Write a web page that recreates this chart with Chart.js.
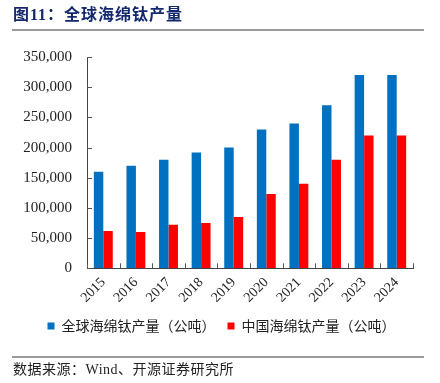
<!DOCTYPE html>
<html><head><meta charset="utf-8">
<script src="https://cdn.jsdelivr.net/npm/chart.js@4/dist/chart.umd.min.js"></script>
<style>
html,body{margin:0;padding:0;background:#fff;}
#wrap{position:relative;width:440px;height:383px;overflow:hidden;}
#c{position:absolute;left:0;top:0;}
.title{position:absolute;left:13px;top:5px;font-family:"Liberation Serif","Noto Sans CJK SC",serif;font-weight:bold;font-size:16px;letter-spacing:1px;color:#14286e;white-space:nowrap;line-height:20px;}
.hl{position:absolute;left:12px;width:412px;height:2px;background:#9a9a9a;}
.src{position:absolute;left:13px;top:361px;font-family:"Liberation Serif","Noto Sans CJK SC",serif;font-size:14px;letter-spacing:0.5px;color:#222;white-space:nowrap;line-height:18px;}
</style></head>
<body><div id="wrap">
<canvas id="c" width="440" height="383"></canvas>
<div class="title">图11：全球海绵钛产量</div>
<div class="hl" style="top:29px"></div>
<div class="hl" style="top:356px;height:1.5px"></div>
<div class="src">数据来源：Wind、开源证券研究所</div>
</div>
<script>
const categories = ['2015','2016','2017','2018','2019','2020','2021','2022','2023','2024'];
const globalOutput = [160000,170000,180000,192000,200000,230000,240000,270000,320000,320000];
const chinaOutput = [62000,60000,72000,75000,85000,123000,140000,180000,220000,220000];
const seriesNames = ['全球海绵钛产量（公吨）','中国海绵钛产量（公吨）'];
const yTicks = [0,50000,100000,150000,200000,250000,300000,350000];

const inwardTicks = {
  id:'inwardTicks',
  afterLayout(chart){
    const lg = chart.legend;
    if(lg){ lg.left += 15; lg.right += 15; }
  },
  afterDraw(chart){
    const ctx = chart.ctx, x = chart.scales.x, y = chart.scales.y;
    ctx.save();
    ctx.strokeStyle = '#555'; ctx.lineWidth = 1;
    ctx.beginPath();
    y.ticks.forEach((t,i)=>{
      const py = Math.round(y.getPixelForTick(i))+0.5;
      ctx.moveTo(y.right, py); ctx.lineTo(y.right+5, py);
    });
    for(let i=0;i<=categories.length;i++){
      const px = Math.round(x.left + (x.right-x.left)*i/categories.length)+0.5;
      ctx.moveTo(px, x.top); ctx.lineTo(px, x.top-5);
    }
    ctx.stroke();
    ctx.restore();
  }
};

new Chart(document.getElementById('c'), {
  type:'bar',
  data:{
    labels:categories,
    datasets:[
      {label:seriesNames[0], data:globalOutput, backgroundColor:'#0070c0'},
      {label:seriesNames[1], data:chinaOutput, backgroundColor:'#ff0000'}
    ]
  },
  options:{
    responsive:false, animation:false,
    layout:{padding:{left:0,right:27,top:57,bottom:40}},
    datasets:{bar:{categoryPercentage:0.58,barPercentage:1.0}},
    plugins:{
      legend:{position:'bottom',
        labels:{usePointStyle:true,pointStyle:'rect',boxWidth:7,boxHeight:7,padding:12,
          font:{family:'"Noto Sans CJK SC"',size:14},color:'#222'}},
      tooltip:{enabled:false}
    },
    scales:{
      y:{min:0,max:350000,
        afterBuildTicks(s){ s.ticks = yTicks.map(v=>({value:v})); },
        afterFit(s){ s.width = 87; },
        grid:{display:false,drawTicks:false},
        border:{display:true,color:'#444',width:1},
        ticks:{padding:15,color:'#222',font:{family:'"Liberation Serif"',size:15},
          callback:v=>v.toLocaleString('en-US')}
      },
      x:{
        afterFit(s){ s.height -= 5; },
        grid:{display:false,drawTicks:false,offset:true},
        border:{display:true,color:'#444',width:1},
        ticks:{minRotation:45,maxRotation:45,padding:6,color:'#222',
          font:{family:'"Liberation Serif"',size:14}}
      }
    }
  },
  plugins:[inwardTicks]
});
</script>
</body></html>
